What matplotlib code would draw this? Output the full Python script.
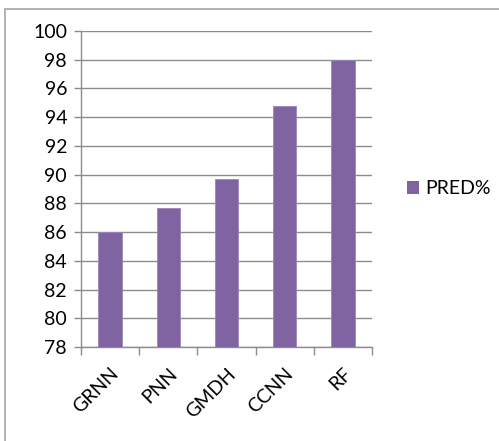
import matplotlib.pyplot as plt
from matplotlib.patches import Rectangle, Patch

models = ["GRNN", "PNN", "GMDH", "CCNN", "RF"]
pred = [86.0, 87.7, 89.7, 94.75, 98.0]
yticks = list(range(78, 101, 2))

plt.rcParams['font.family'] = ['Lato', 'DejaVu Sans']

fig = plt.figure(figsize=(4.99, 4.41), dpi=100)
W, H = 499.0, 441.0

# outer chart border (open at right and bottom)
fig.patches.append(Rectangle((5 / W, -0.1), 1.2, (H - 9) / H + 0.1, transform=fig.transFigure,
                             fill=False, edgecolor='#a6a6a6', linewidth=1.2, zorder=0))

ax = fig.add_axes([81 / W, 1 - 347 / H, (372 - 81) / W, (347 - 31) / H])

x = list(range(len(models)))
ax.bar(x, pred, width=0.4, color='#8064A2', edgecolor='#9c86b8', linewidth=0.6, zorder=3)
ax.set_ylim(78, 100)
ax.set_xlim(-0.5, len(models) - 0.5)
ax.set_yticks(yticks)
ax.set_yticklabels([str(v) for v in yticks], fontsize=14)

ax.grid(axis='y', color='#8c8c8c', linewidth=1.0, zorder=0)
ax.set_axisbelow(True)

for s in ['top', 'right']:
    ax.spines[s].set_visible(False)
for s in ['left', 'bottom']:
    ax.spines[s].set_color('#8c8c8c')
    ax.spines[s].set_linewidth(1.0)

ax.tick_params(axis='y', length=5, width=1.0, color='#8c8c8c', pad=5)
ax.set_xticks([i - 0.5 for i in range(len(models) + 1)])
ax.set_xticklabels([])
ax.tick_params(axis='x', length=6, width=1.0, color='#8c8c8c')

ax.set_xticks(x, minor=True)
ax.set_xticklabels(models, minor=True, rotation=45, ha='right', va='top',
                   rotation_mode='anchor', fontsize=14)
ax.tick_params(axis='x', which='minor', length=0, pad=13)

ax.legend(handles=[Patch(facecolor='#8064A2', label='PRED%')],
          loc='center left', bbox_to_anchor=(1.06, 0.5), frameon=False,
          fontsize=14, handlelength=0.6, handleheight=0.6, handletextpad=0.35)

plt.savefig("out.png", dpi=100)
